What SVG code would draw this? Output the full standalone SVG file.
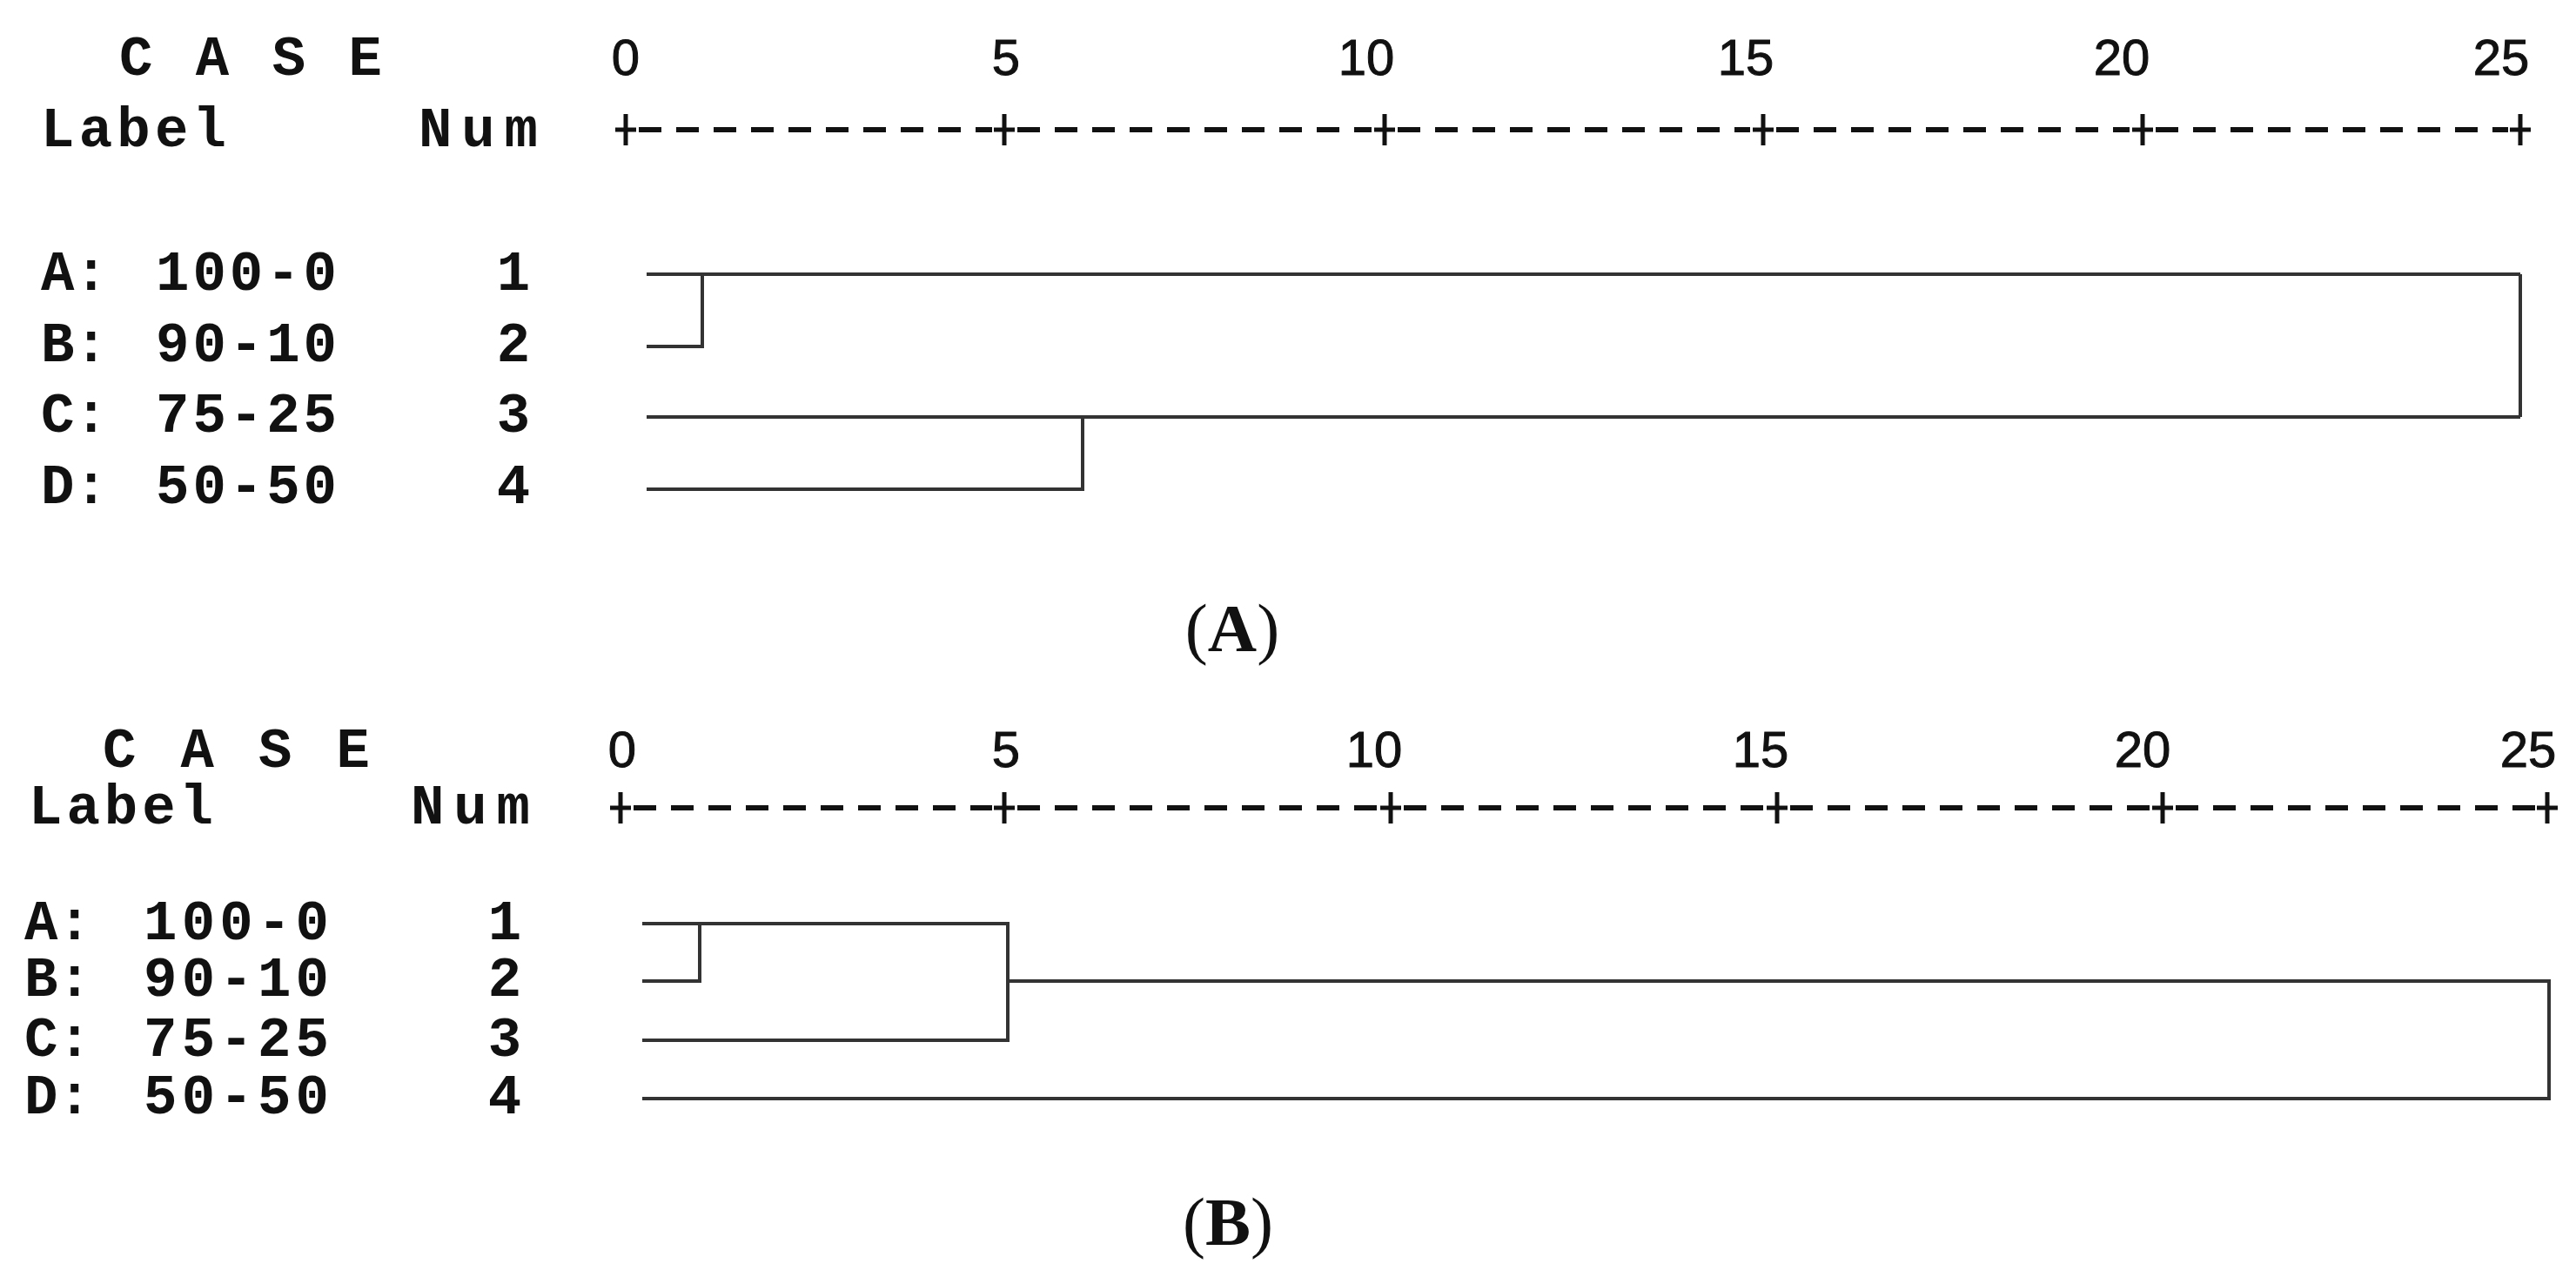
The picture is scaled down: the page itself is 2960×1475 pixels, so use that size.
<svg xmlns="http://www.w3.org/2000/svg" width="2960" height="1475" viewBox="0 0 2960 1475">
<style>
.t{font-family:"Liberation Mono",monospace;font-weight:bold;font-size:64px;fill:#111}
.n{font-family:"Liberation Sans",Arial,sans-serif;font-size:58px;fill:#111;text-anchor:middle;stroke:#111;stroke-width:1}
.c{font-family:"Liberation Serif","Times New Roman",serif;font-size:78px;fill:#111;text-anchor:middle}
.ln{stroke:#333;stroke-width:4;fill:none}
.ax{stroke:#111;stroke-width:6;stroke-dasharray:26 17;fill:none}
.pl{stroke:#111;stroke-width:5;fill:none}
</style>
<rect width="2960" height="1475" fill="#fff"/>
<g id="panelA-labels">
<text class="t" x="137" y="86" textLength="302">C A S E</text>
<text class="t" x="47" y="168" textLength="213">Label</text>
<text class="t" x="481" y="168" textLength="137">Num</text>
<text class="t" x="47" y="333">A:</text><text class="t" x="179" y="333" textLength="208">100-0</text><text class="t" x="590" y="333" text-anchor="middle">1</text>
<text class="t" x="47" y="415">B:</text><text class="t" x="179" y="415" textLength="208">90-10</text><text class="t" x="590" y="415" text-anchor="middle">2</text>
<text class="t" x="47" y="496">C:</text><text class="t" x="179" y="496" textLength="208">75-25</text><text class="t" x="590" y="496" text-anchor="middle">3</text>
<text class="t" x="47" y="578">D:</text><text class="t" x="179" y="578" textLength="208">50-50</text><text class="t" x="590" y="578" text-anchor="middle">4</text>
<text class="n" x="719" y="86">0</text><text class="n" x="1156" y="86">5</text><text class="n" x="1570" y="86">10</text><text class="n" x="2006" y="86">15</text><text class="n" x="2438" y="86">20</text><text class="n" x="2874" y="86">25</text>
<text class="c" x="1416" y="748">(<tspan font-weight="bold">A</tspan>)</text>
</g>
<g id="panelA-axis">
<path class="ax" d="M734 149H1140M1169 149H1576M1606 149H2011M2041 149H2447M2477 149H2882"/>
<path class="pl" d="M707 149h24M719 131v36M1142 149h24M1154 131v36M1579 149h24M1591 131v36M2014 149h24M2026 131v36M2450 149h24M2462 131v36M2884 149h24M2896 131v36"/>
</g>
<g id="panelA-connectors">
<path class="ln" d="M743 315H2896M743 398H807V315M743 479H2896M743 562H1244V479M2896 315V479"/>
</g>
<g id="panelB-labels">
<text class="t" x="118" y="881" textLength="307">C A S E</text>
<text class="t" x="33" y="946" textLength="212">Label</text>
<text class="t" x="472" y="946" textLength="137">Num</text>
<text class="t" x="28" y="1079">A:</text><text class="t" x="165" y="1079" textLength="213">100-0</text><text class="t" x="580" y="1079" text-anchor="middle">1</text>
<text class="t" x="28" y="1144">B:</text><text class="t" x="165" y="1144" textLength="213">90-10</text><text class="t" x="580" y="1144" text-anchor="middle">2</text>
<text class="t" x="28" y="1213">C:</text><text class="t" x="165" y="1213" textLength="213">75-25</text><text class="t" x="580" y="1213" text-anchor="middle">3</text>
<text class="t" x="28" y="1279">D:</text><text class="t" x="165" y="1279" textLength="213">50-50</text><text class="t" x="580" y="1279" text-anchor="middle">4</text>
<text class="n" x="715" y="881">0</text><text class="n" x="1156" y="881">5</text><text class="n" x="1579" y="881">10</text><text class="n" x="2023" y="881">15</text><text class="n" x="2462" y="881">20</text><text class="n" x="2905" y="881">25</text>
<text class="c" x="1411" y="1430">(<tspan font-weight="bold">B</tspan>)</text>
</g>
<g id="panelB-axis">
<path class="ax" d="M728 928H1140M1169 928H1584M1613 928H2028M2057 928H2471M2500 928H2913"/>
<path class="pl" d="M701 928h24M713 910v36M1142 928h24M1154 910v36M1586 928h24M1598 910v36M2030 928h24M2042 910v36M2473 928h24M2485 910v36M2915 928h24M2927 910v36"/>
</g>
<g id="panelB-connectors">
<path class="ln" d="M738 1061H1158V1195H738M738 1127H804V1061M1158 1127H2929V1262H738"/>
</g>
</svg>
